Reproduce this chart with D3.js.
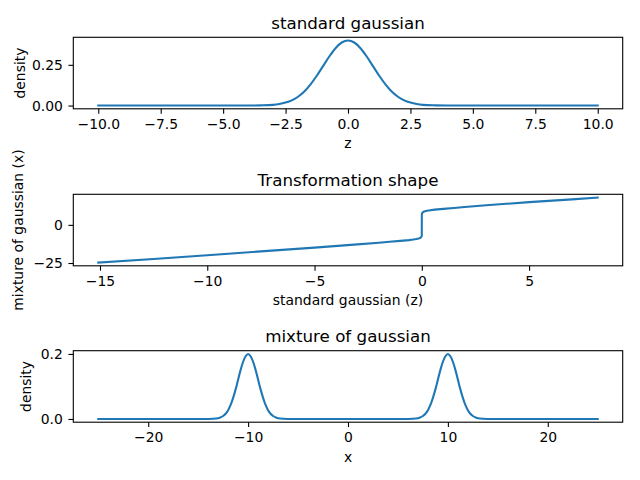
<!DOCTYPE html>
<html>
<head>
<meta charset="utf-8">
<script src="https://cdn.jsdelivr.net/npm/d3@7"></script>
<style>
  body { margin: 0; background: #fff; }
  svg { display: block; font-family: "DejaVu Sans", sans-serif; }
</style>
</head>
<body>
<svg id="fig" width="640" height="480"></svg>
<script>
// standard gaussian density
const gaussZ = [-10, -4, -3.5, -3, -2.75, -2.5, -2.25, -2, -1.75, -1.5, -1.25, -1, -0.75, -0.5, -0.25, 0,
  0.25, 0.5, 0.75, 1, 1.25, 1.5, 1.75, 2, 2.25, 2.5, 2.75, 3, 3.5, 4, 10];
const gaussDensity = [0, 0, 0.001, 0.004, 0.009, 0.018, 0.032, 0.054, 0.086, 0.130, 0.183, 0.242, 0.301, 0.352, 0.387, 0.399,
  0.387, 0.352, 0.301, 0.242, 0.183, 0.130, 0.086, 0.054, 0.032, 0.018, 0.009, 0.004, 0.001, 0, 0];

// transformation z -> x, middle panel
const transZ = [-15.08, -12.5, -10, -7.5, -5, -3, -2, -1.5, -1, -0.6, -0.4, -0.25, -0.15, -0.08, -0.03, -0.001,
  0.001, 0.03, 0.08, 0.15, 0.25, 0.4, 0.6, 1, 1.5, 2, 3, 5, 7, 8.2];
const transX = [-24.7, -22.4, -19.9, -17.4, -14.9, -12.8, -11.7, -11.1, -10.5, -10.0, -9.6, -9.25, -8.9, -8.55, -8.0, -7.3,
  7.3, 8.0, 8.55, 8.9, 9.25, 9.6, 10.0, 10.5, 11.1, 11.7, 12.8, 14.9, 16.7, 17.9];

// mixture of two gaussians, bottom panel
const mixX = [-25, -14, -13.5, -13, -12.75, -12.5, -12.25, -12, -11.75, -11.5, -11.25, -11, -10.75, -10.5, -10.25, -10,
  -9.75, -9.5, -9.25, -9, -8.75, -8.5, -8.25, -8, -7.75, -7.5, -7.25, -7, -6.5, -6,
  6, 6.5, 7, 7.25, 7.5, 7.75, 8, 8.25, 8.5, 8.75, 9, 9.25, 9.5, 9.75, 10,
  10.25, 10.5, 10.75, 11, 11.25, 11.5, 11.75, 12, 12.25, 12.5, 12.75, 13, 13.5, 14, 25];
const mixDensity = [0, 0, 0.0004, 0.002, 0.005, 0.009, 0.016, 0.027, 0.043, 0.065, 0.091, 0.121, 0.151, 0.176, 0.193, 0.200,
  0.193, 0.176, 0.151, 0.121, 0.091, 0.065, 0.043, 0.027, 0.016, 0.009, 0.005, 0.002, 0.0004, 0,
  0, 0.0004, 0.002, 0.005, 0.009, 0.016, 0.027, 0.043, 0.065, 0.091, 0.121, 0.151, 0.176, 0.193, 0.200,
  0.193, 0.176, 0.151, 0.121, 0.091, 0.065, 0.043, 0.027, 0.016, 0.009, 0.005, 0.002, 0.0004, 0, 0];

const ticks1x = [-10, -7.5, -5, -2.5, 0, 2.5, 5, 7.5, 10];
const ticks1y = [0, 0.25];
const ticks2x = [-15, -10, -5, 0, 5];
const ticks2y = [-25, 0];
const ticks3x = [-20, -10, 0, 10, 20];
const ticks3y = [0, 0.2];

const svg = d3.select("#fig");
const left = 73.3, right = 622.7;
const axH = 71.5;
const blue = "#1f77b4";

// matplotlib-ish 5% margins
function pad(ext) {
  const m = (ext[1] - ext[0]) * 0.05;
  return [ext[0] - m, ext[1] + m];
}

function panel(opt) {
  const top = opt.top, bottom = top + axH;
  const x = d3.scaleLinear().domain(pad(d3.extent(opt.xs))).range([left, right]);
  const y = d3.scaleLinear().domain(pad(d3.extent(opt.ys))).range([bottom, top]);
  const g = svg.append("g");

  const pts = opt.xs.map((v, i) => [v, opt.ys[i]]);
  const line = d3.line().x(d => x(d[0])).y(d => y(d[1])).curve(opt.curve);
  g.append("path")
    .attr("d", line(pts))
    .attr("fill", "none")
    .attr("stroke", blue)
    .attr("stroke-width", 2.08)
    .attr("stroke-linejoin", "round")
    .attr("stroke-linecap", "square");

  const xa = g.append("g")
    .attr("transform", `translate(0,${bottom})`)
    .call(d3.axisBottom(x).tickValues(opt.xt).tickFormat(d3.format(opt.xf))
      .tickSizeOuter(0).tickSize(4.86).tickPadding(5.3));
  const ya = g.append("g")
    .attr("transform", `translate(${left},0)`)
    .call(d3.axisLeft(y).tickValues(opt.yt).tickFormat(d3.format(opt.yf))
      .tickSizeOuter(0).tickSize(4.86).tickPadding(5.6));
  [xa, ya].forEach(a => {
    a.select(".domain").remove();
    a.selectAll("line").attr("stroke", "#000").attr("stroke-width", 1.1);
    a.selectAll("text").attr("fill", "#000").attr("font-size", 13.9)
      .attr("font-family", "DejaVu Sans, sans-serif");
  });

  // spines
  g.append("rect")
    .attr("x", left).attr("y", top)
    .attr("width", right - left).attr("height", axH)
    .attr("fill", "none").attr("stroke", "#000").attr("stroke-width", 1.1);

  const cx = (left + right) / 2;
  g.append("text")
    .attr("x", cx).attr("y", top - 8.3)
    .attr("text-anchor", "middle").attr("font-size", 16.7)
    .text(opt.title);
  g.append("text")
    .attr("x", cx).attr("y", bottom + 39.5)
    .attr("text-anchor", "middle").attr("font-size", 13.9)
    .text(opt.xlabel);
  g.append("text")
    .attr("transform", `translate(${opt.ylx},${top + axH / 2}) rotate(-90)`)
    .attr("text-anchor", "middle").attr("font-size", 13.9)
    .text(opt.ylabel);
}

panel({
  top: 37.3, xs: gaussZ, ys: gaussDensity, xt: ticks1x, yt: ticks1y,
  xf: ".1f", yf: ".2f", curve: d3.curveMonotoneX,
  title: "standard gaussian", xlabel: "z", ylabel: "density", ylx: 25
});
panel({
  top: 194.3, xs: transZ, ys: transX, xt: ticks2x, yt: ticks2y,
  xf: "d", yf: "d", curve: d3.curveLinear,
  title: "Transformation shape", xlabel: "standard gaussian (z)",
  ylabel: "mixture of gaussian (x)", ylx: 22.7
});
panel({
  top: 350.7, xs: mixX, ys: mixDensity, xt: ticks3x, yt: ticks3y,
  xf: "d", yf: ".1f", curve: d3.curveMonotoneX,
  title: "mixture of gaussian", xlabel: "x", ylabel: "density", ylx: 31
});
</script>
</body>
</html>
